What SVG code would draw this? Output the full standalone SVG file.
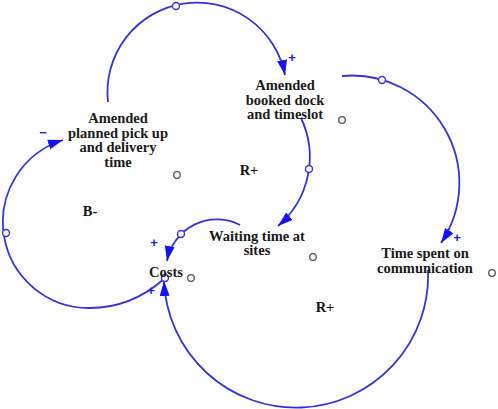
<svg xmlns="http://www.w3.org/2000/svg" width="498" height="409" viewBox="0 0 498 409">
  <style>
    .lbl { font-family: "Liberation Serif", "Times New Roman", serif; font-weight: bold; font-size: 14.5px; fill: #1a1a1a; text-anchor: middle; }
    .loop { font-family: "Liberation Serif", "Times New Roman", serif; font-weight: bold; font-size: 14.5px; fill: #111; text-anchor: middle; }
    .sign { font-family: "Liberation Sans", Arial, sans-serif; font-weight: bold; font-size: 13px; fill: #2020e0; text-anchor: middle; }
    .link { fill: none; stroke: #3434d6; stroke-width: 1.8; }
    .hub { fill: #fff; stroke: #3434d6; stroke-width: 1.4; }
    .vh { fill: #fff; stroke: #555; stroke-width: 1.3; }
  </style>
  <defs>
    <marker id="arr" markerUnits="userSpaceOnUse" viewBox="0 0 15 10" refX="15" refY="5" markerWidth="15" markerHeight="10" orient="auto">
      <path d="M0,0 L15,5 L0,10 z" fill="#1414f0"/>
    </marker>
  </defs>
  <rect width="498" height="409" fill="#fff"/>

  <g id="connectors">
    <path class="link" d="M108,102 A89.6,89.6 0 0 1 285,75" marker-end="url(#arr)"/>
    <path class="link" d="M301,118 A90.8,90.8 0 0 1 278,226" marker-end="url(#arr)"/>
    <path class="link" d="M342,76 A107.4,107.4 0 0 1 441,243" marker-end="url(#arr)"/>
    <path class="link" d="M240,225 A50.7,50.7 0 0 0 167,261" marker-end="url(#arr)"/>
    <path class="link" d="M164,279 C140,300 115,308 90,308 A86,86 0 0 1 63,140" marker-end="url(#arr)"/>
    <path class="link" d="M428,270 A131.5,131.5 0 0 1 164,281" marker-end="url(#arr)"/>
    <circle class="hub" cx="176" cy="6" r="3.5"/>
    <circle class="hub" cx="309" cy="169" r="3.5"/>
    <circle class="hub" cx="382" cy="80" r="3.5"/>
    <circle class="hub" cx="181" cy="234" r="3.5"/>
    <circle class="hub" cx="6" cy="233" r="3.5"/>
    <circle class="hub" cx="165" cy="278" r="3.5"/>
    <text class="sign" x="292" y="62">+</text>
    <text class="sign" x="457" y="242">+</text>
    <text class="sign" x="154" y="247">+</text>
    <text class="sign" x="151" y="295">+</text>
    <text class="sign" x="43" y="137">−</text>
  </g>

  <g id="node-planned">
    <text class="lbl" x="118" y="123">Amended</text>
    <text class="lbl" x="118" y="138">planned pick up</text>
    <text class="lbl" x="118" y="152">and delivery</text>
    <text class="lbl" x="118" y="167">time</text>
    <circle class="vh" cx="177" cy="175" r="3.3"/>
  </g>
  <g id="node-booked">
    <text class="lbl" x="285" y="90">Amended</text>
    <text class="lbl" x="285" y="105">booked dock</text>
    <text class="lbl" x="285" y="119">and timeslot</text>
    <circle class="vh" cx="342" cy="120" r="3.3"/>
  </g>
  <g id="node-waiting">
    <text class="lbl" x="257" y="241">Waiting time at</text>
    <text class="lbl" x="257" y="255">sites</text>
    <circle class="vh" cx="313" cy="257" r="3.3"/>
  </g>
  <g id="node-costs">
    <text class="lbl" x="166" y="277">Costs</text>
    <circle class="vh" cx="191" cy="278" r="3.3"/>
  </g>
  <g id="node-communication">
    <text class="lbl" x="425" y="258">Time spent on</text>
    <text class="lbl" x="425" y="273">communication</text>
    <circle class="vh" cx="492" cy="273" r="3.3"/>
  </g>
  <g id="loops">
    <text class="loop" x="249" y="175">R+</text>
    <text class="loop" x="90" y="216">B-</text>
    <text class="loop" x="325" y="312">R+</text>
  </g>
</svg>
